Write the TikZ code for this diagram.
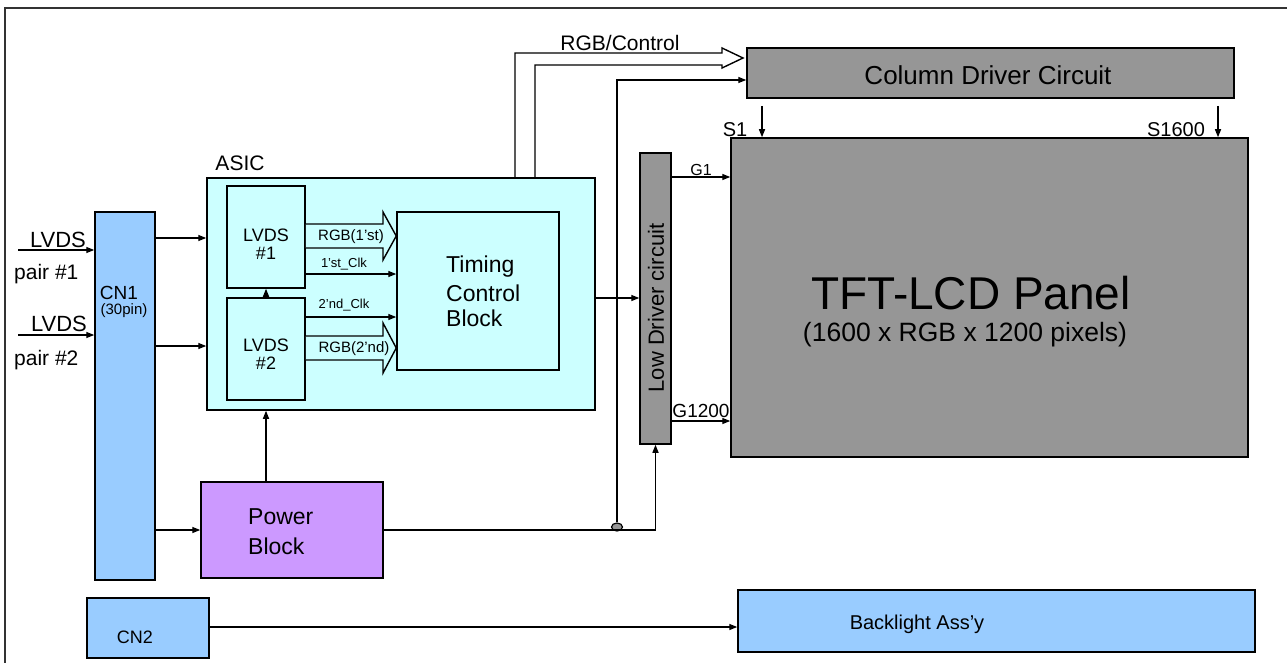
\documentclass[tikz,border=0pt]{standalone}
\usepackage{fontspec}
\setmainfont{Liberation Sans}
\usetikzlibrary{arrows.meta,shapes.geometric}
\definecolor{cnblue}{HTML}{99CCFF}
\definecolor{asicc}{HTML}{CCFFFF}
\definecolor{drvgray}{HTML}{969696}
\definecolor{pwr}{HTML}{CC99FF}
\begin{document}
\begin{tikzpicture}[x=1pt,y=-1pt,
  box/.style={draw, line width=1.5pt, inner sep=0pt, anchor=center},
  lbl/.style={inner sep=0pt, anchor=center},
  arr/.style={line width=1.4pt, -{Triangle[length=8pt,width=6pt]}},
  ln/.style={line width=1.4pt},
  fs/.style={font=\fontsize{#1}{#1}\selectfont}
]
\useasboundingbox (0,0) rectangle (1287,663);
% frame
\draw[line width=1.5pt, draw=black!80] (5,663) -- (5,8) -- (1287,8);

% boxes
\node[box, fill=cnblue, minimum width=60, minimum height=368] (cn1) at (125,396) {};
\node[box, fill=asicc, minimum width=388, minimum height=232] (asic) at (401,294) {};
\node[box, fill=asicc, minimum width=78, minimum height=102] (lv1) at (266,237) {};
\node[box, fill=asicc, minimum width=78, minimum height=102] (lv2) at (266,349) {};
\node[box, fill=asicc, minimum width=162, minimum height=158] (tc) at (478,291) {};
\node[box, fill=drvgray, minimum width=31, minimum height=291] (ld) at (655.5,298.5) {};
\node[box, fill=drvgray, minimum width=487, minimum height=50] (coldrv) at (990.5,73) {};
\node[box, fill=drvgray, minimum width=517, minimum height=319] (tft) at (989.5,297.5) {};
\node[box, fill=pwr, minimum width=182, minimum height=96] (power) at (292,530) {};
\node[box, fill=cnblue, minimum width=122, minimum height=60] (cn2) at (148,628) {};
\node[box, fill=cnblue, minimum width=517, minimum height=62] (bl) at (996.5,621) {};

% texts
\node[lbl, fs=19] (cn1t) at (119,293) {CN1};
\node[lbl, fs=15] (cn1p) at (124,311) {(30pin)};
\node[lbl, fs=21] (asict) at (240,163) {ASIC};
\node[lbl, fs=18] (lv1a) at (266,235) {LVDS};
\node[lbl, fs=18] (lv1b) at (266,253) {\#1};
\node[lbl, fs=18] (lv2a) at (266,345) {LVDS};
\node[lbl, fs=18] (lv2b) at (266,363) {\#2};
\node[lbl, fs=23, align=left, anchor=west] (tct) at (446,291) {Timing\\[6pt]Control\\[2pt]Block};
\node[lbl, fs=22, rotate=90] (ldt) at (656,308) {Low Driver circuit};
\node[lbl, fs=26] (cdt) at (988,75) {Column Driver Circuit};
\node[lbl, fs=46] (tftt) at (971,293) {TFT-LCD Panel};
\node[lbl, fs=26.5] (tftp) at (965,335) {(1600 x RGB x 1200 pixels)};
\node[lbl, fs=23, align=left, anchor=west] (pwt) at (248,532) {Power\\[7pt]Block};
\node[lbl, fs=18] (cn2t) at (135,637) {CN2};
\node[lbl, fs=20] (blt) at (917,624) {Backlight Ass’y};
\node[lbl, fs=21] (rgbc) at (620,43) {RGB/Control};
\node[lbl, fs=20] (s1t) at (735,130) {S1};
\node[lbl, fs=20] (s16t) at (1176,130) {S1600};
\node[lbl, fs=16] (g1t) at (701,170) {G1};
\node[lbl, fs=19] (g12t) at (701,411) {G1200};
\node[lbl, fs=22] (l1t) at (58,240) {LVDS};
\node[lbl, fs=21, anchor=west] (p1t) at (14,274) {pair \#1};
\node[lbl, fs=22] (l2t) at (59,324) {LVDS};
\node[lbl, fs=21, anchor=west] (p2t) at (14,360) {pair \#2};
\node[lbl, fs=13] (c1t) at (344,264) {1’st\_Clk};
\node[lbl, fs=13] (c2t) at (344,305) {2’nd\_Clk};

% inputs
\coordinate (in1) at (18,250);
\coordinate (in2) at (18,335);
\draw[arr] (in1) -- (in1 -| cn1.west);
\draw[arr] (in2) -- (in2 -| cn1.west);
\draw[arr] (cn1.east |- 0,238) -- (asic.west |- 0,238);
\draw[arr] (cn1.east |- 0,346) -- (asic.west |- 0,346);
\draw[arr] (cn1.east |- power.west) -- (power.west);

% inside ASIC
\draw[ln, fill=asicc] (lv1.east |- 0,224) -- (383,224) -- (383,212) -- (tc.west |- 0,236) -- (383,260) -- (383,248) -- (lv1.east |- 0,248);
\draw[ln, fill=asicc] (lv2.east |- 0,336) -- (383,336) -- (383,323) -- (tc.west |- 0,348) -- (383,373) -- (383,360) -- (lv2.east |- 0,360);
\node[lbl, fs=15] (rgb1t) at (351,237) {RGB(1’st)};
\node[lbl, fs=15] (rgb2t) at (354,349) {RGB(2’nd)};
\draw[arr] (lv1.east |- 0,274) -- (tc.west |- 0,274);
\draw[arr] (lv2.east |- 0,317) -- (tc.west |- 0,317);
\draw[arr] (lv2.north) -- (lv1.south);
\draw[arr] (power.north -| lv2.south) -- (asic.south -| lv2.south);

% to drivers
\draw[arr] (asic.east |- 0,298) -- (ld.west |- 0,298);
\draw[ln] (asic.north -| 515,0) -- (515,53) -- (722,53) -- (722,48) -- (743,58) -- (722,68) -- (722,65) -- (535,65) -- (asic.north -| 535,0);
\node[draw, line width=1.2pt, fill=drvgray, ellipse, minimum width=11, minimum height=8, inner sep=0pt] (jn) at (617,527) {};
\draw[arr] (jn.north) |- (coldrv.west |- 0,80);
\draw[arr] (power.east) -| (ld.south);
\coordinate (s1a) at (762,106);
\coordinate (s2a) at (1218,106);
\draw[arr] (s1a) -- (s1a |- tft.north);
\draw[arr] (s2a) -- (s2a |- tft.north);
\draw[arr] (ld.east |- 0,177) -- (tft.west |- 0,177);
\draw[arr] (ld.east |- 0,421) -- (tft.west |- 0,421);
\draw[arr] (cn2.east |- 0,627) -- (bl.west |- 0,627);
\end{tikzpicture}
\end{document}
